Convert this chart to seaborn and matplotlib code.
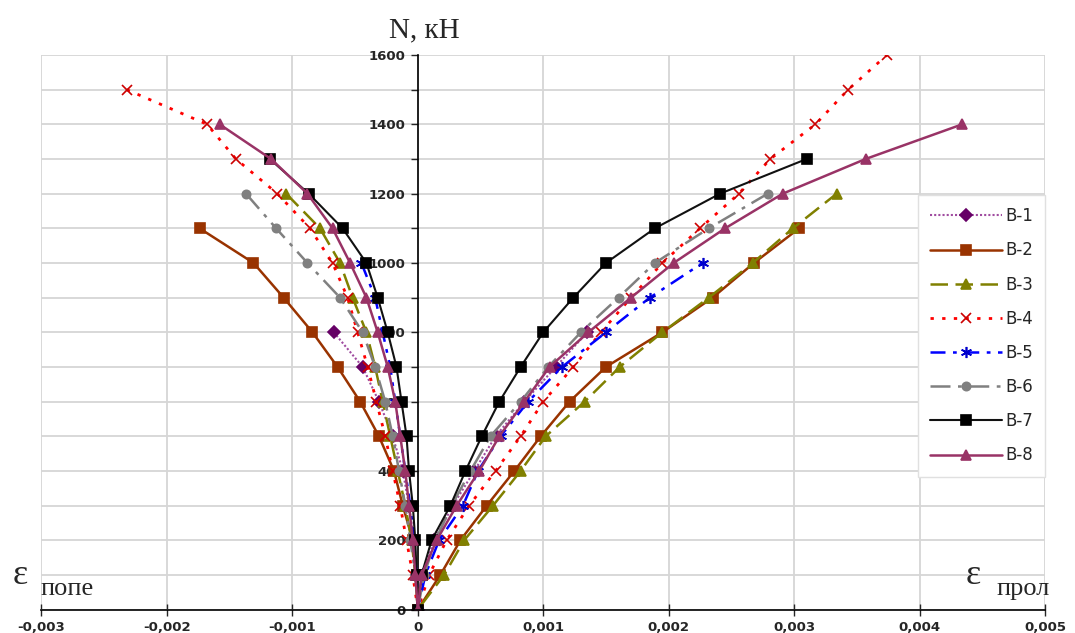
import numpy as np
import pandas as pd
import matplotlib
matplotlib.use("Agg")
import matplotlib.pyplot as plt
import seaborn as sns
from matplotlib.ticker import MultipleLocator, FuncFormatter

# ---- data: loads (kN) and strains (left = transverse, right = longitudinal) ----
loads = [0, 100, 200, 300, 400, 500, 600, 700, 800, 900, 1000, 1100, 1200, 1300, 1400, 1500, 1600]

b1_left = [0, -0.00001, -0.00003, -0.00007, -0.00012, -0.0002, -0.00031, -0.00044, -0.00067]
b1_right = [0, 0.00004, 0.00013, 0.00028, 0.00045, 0.00062, 0.00085, 0.0011, 0.00135]

b2_left = [0, -0.00001, -0.00004, -0.00012, -0.00019, -0.00031, -0.00046, -0.00064, -0.00084,
           -0.00107, -0.00131, -0.00174]
b2_right = [0, 0.00018, 0.00034, 0.00055, 0.00077, 0.00098, 0.00121, 0.0015, 0.00195,
            0.00235, 0.00268, 0.00304]

b3_left = [0, -0.00002, -0.00005, -0.0001, -0.00016, -0.00022, -0.00028, -0.00034, -0.00041,
           -0.00052, -0.00062, -0.00078, -0.00105]
b3_right = [0, 0.00021, 0.00037, 0.0006, 0.00082, 0.00102, 0.00133, 0.00161, 0.00195,
            0.00232, 0.00267, 0.00299, 0.00334]

b4_left = [0, -0.00004, -0.00009, -0.00014, -0.0002, -0.00026, -0.00033, -0.0004, -0.00048,
           -0.00056, -0.00068, -0.00086, -0.00112, -0.00145, -0.00168, -0.00232]
b4_right = [0, 0.00009, 0.00023, 0.00041, 0.00062, 0.00082, 0.001, 0.00124, 0.00146,
            0.0017, 0.00195, 0.00225, 0.00256, 0.00281, 0.00317, 0.00343, 0.00374]

b5_left = [0, -0.00001, -0.00003, -0.00006, -0.0001, -0.00014, -0.00018, -0.00022, -0.00028,
           -0.00034, -0.00045]
b5_right = [0, 0.00006, 0.00017, 0.00036, 0.00048, 0.00066, 0.00088, 0.00115, 0.0015,
            0.00185, 0.00227]

b6_left = [0, -0.00002, -0.00006, -0.0001, -0.00015, -0.0002, -0.00026, -0.00034, -0.00044,
           -0.00062, -0.00088, -0.00113, -0.00137]
b6_right = [0, 0.00005, 0.00014, 0.00027, 0.00042, 0.00058, 0.00082, 0.00104, 0.0013,
            0.0016, 0.00189, 0.00232, 0.00279]

b7_left = [0, -0.00001, -0.00002, -0.00004, -0.00007, -0.00009, -0.00013, -0.00017, -0.00024,
           -0.00032, -0.00041, -0.0006, -0.00087, -0.00118]
b7_right = [0, 0.00003, 0.00011, 0.00026, 0.00038, 0.00051, 0.00065, 0.00082, 0.001,
            0.00124, 0.0015, 0.00189, 0.00241, 0.0031]

b8_left = [0, -0.00002, -0.00004, -0.00007, -0.0001, -0.00014, -0.00018, -0.00024, -0.00032,
           -0.00041, -0.00054, -0.00068, -0.00088, -0.00117, -0.00158]
b8_right = [0, 0.00003, 0.00015, 0.00031, 0.00049, 0.00065, 0.00085, 0.00105, 0.00136,
            0.0017, 0.00204, 0.00245, 0.00291, 0.00357, 0.00434]

names = ["В-1", "В-2", "В-3", "В-4", "В-5", "В-6", "В-7", "В-8"]
lefts = [b1_left, b2_left, b3_left, b4_left, b5_left, b6_left, b7_left, b8_left]
rights = [b1_right, b2_right, b3_right, b4_right, b5_right, b6_right, b7_right, b8_right]

x_ticks = [-0.003, -0.002, -0.001, 0, 0.001, 0.002, 0.003, 0.004, 0.005]
y_ticks = [0, 200, 400, 600, 800, 1000, 1200, 1400, 1600]

# ---- styles ----
styles = {
    "В-1": dict(color="#a04ca0", marker="D", mfc="#660066", mec="#660066", ls=(0, (1, 1)), lw=1.5, ms=6),
    "В-2": dict(color="#993300", marker="s", mfc="#993300", mec="#993300", ls="-", lw=1.8, ms=7),
    "В-3": dict(color="#808000", marker="^", mfc="#808000", mec="#808000", ls=(0, (7, 3)), lw=1.8, ms=7),
    "В-4": dict(color="#ff0000", marker="x", mfc="#ff0000", mec="#cc0000", ls=(0, (1.2, 3)), lw=2.0, ms=7),
    "В-5": dict(color="#0000ff", marker=(6, 2, 0), mfc="#0000ff", mec="#0000cc", ls=(0, (6, 3, 1.5, 3)), lw=1.8, ms=8),
    "В-6": dict(color="#808080", marker="o", mfc="#808080", mec="#808080", ls=(0, (8, 3, 1.5, 3)), lw=1.8, ms=6),
    "В-7": dict(color="#111111", marker="s", mfc="#000000", mec="#000000", ls="-", lw=1.5, ms=7),
    "В-8": dict(color="#993366", marker="^", mfc="#993366", mec="#993366", ls="-", lw=1.8, ms=7),
}

sns.set_style("white")
fig = plt.figure(figsize=(10.75, 6.33), dpi=100)
ax = fig.add_axes([0.0386, 0.0371, 0.9335, 0.876])

for name, lft, rgt in zip(names, lefts, rights):
    nl = len(lft)
    nr = len(rgt)
    xs = list(lft[::-1]) + list(rgt[1:])
    ys = list(loads[:nl][::-1]) + list(loads[1:nr])
    st = styles[name]
    sns.lineplot(x=xs, y=ys, sort=False, estimator=None, ax=ax, label=name,
                 color=st["color"], linestyle=st["ls"], linewidth=st["lw"],
                 marker=st["marker"], markersize=st["ms"],
                 markerfacecolor=st["mfc"], markeredgecolor=st["mec"], markeredgewidth=1.2)

ax.set_xlim(-0.003, 0.005)
ax.set_ylim(0, 1600)

# grid
ax.xaxis.set_major_locator(matplotlib.ticker.FixedLocator(x_ticks))
ax.yaxis.set_major_locator(matplotlib.ticker.FixedLocator(y_ticks))
ax.yaxis.set_minor_locator(MultipleLocator(100))
ax.grid(True, which="both", color="#d6d6d6", linewidth=1.3)
ax.set_axisbelow(True)

# spines: y axis at x=0
for s in ["top", "right"]:
    ax.spines[s].set_visible(False)
ax.spines["left"].set_position(("data", 0))
ax.spines["left"].set_color("black")
ax.spines["left"].set_linewidth(1.2)
ax.spines["bottom"].set_color("black")
ax.spines["bottom"].set_linewidth(1.2)
ax.spines["left"].set_zorder(1)

ax.tick_params(axis="y", which="both", direction="out", length=5, width=1, left=True, pad=4)
ax.tick_params(axis="x", which="major", direction="inout", length=8, width=1, bottom=True, pad=4)

def fmt_x(v, pos):
    if abs(v) < 1e-12:
        return "0"
    return f"{v:.3f}".replace(".", ",")

ax.xaxis.set_major_formatter(FuncFormatter(fmt_x))
ax.yaxis.set_major_formatter(FuncFormatter(lambda v, p: f"{int(v)}"))
for lab in ax.get_xticklabels() + ax.get_yticklabels():
    lab.set_fontweight("bold")
    lab.set_fontsize(9.5)
    lab.set_family("DejaVu Sans")

ax.set_xlabel("")
ax.set_ylabel("")

# titles
fig.text(424 / 1075, 1 - 30 / 633, "N, кН", ha="center", va="center",
         family="Liberation Serif", fontsize=21)
fig.text(13 / 1075, 1 - 576 / 633, "ε", ha="left", va="center",
         family="Liberation Serif", fontsize=26)
fig.text(40 / 1075, 1 - 589 / 633, "попе", ha="left", va="center",
         family="Liberation Serif", fontsize=19)
fig.text(966 / 1075, 1 - 576 / 633, "ε", ha="left", va="center",
         family="Liberation Serif", fontsize=26)
fig.text(996 / 1075, 1 - 589 / 633, "прол", ha="left", va="center",
         family="Liberation Serif", fontsize=19)

leg = ax.legend(loc="upper left", bbox_to_anchor=(0.873, 0.748), frameon=True,
                fancybox=False, edgecolor="#e0e0e0", framealpha=1,
                prop={"family": "DejaVu Sans", "size": 12},
                handlelength=4.3, handletextpad=0.2, labelspacing=0.97,
                borderpad=0.75, borderaxespad=0)
leg.get_frame().set_linewidth(1.0)

fig.savefig("out.png", dpi=100)
